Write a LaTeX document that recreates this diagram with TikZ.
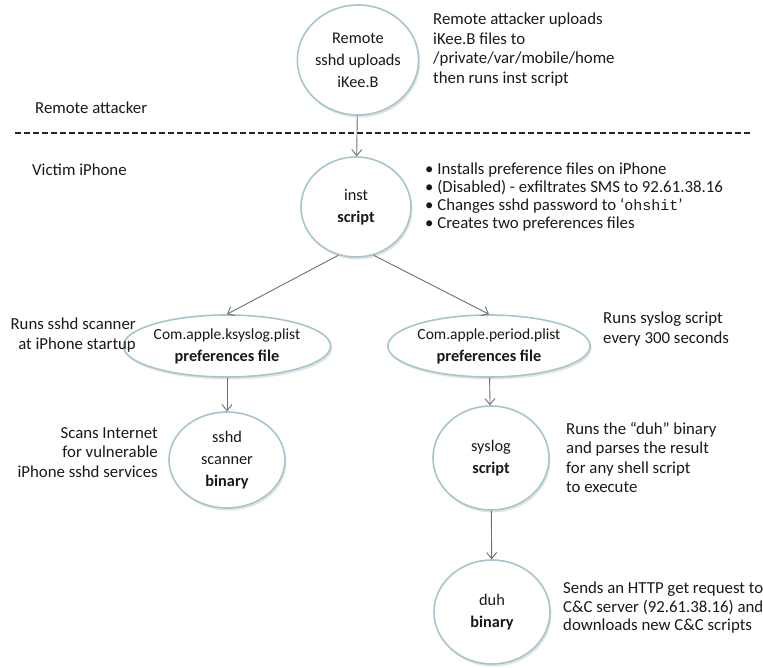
\documentclass[tikz,border=0pt]{standalone}
\usepackage{fontspec}
\setmainfont{Carlito}
\setmonofont{Liberation Mono}
\usetikzlibrary{shapes.geometric,arrows.meta,shadows}
\definecolor{rim}{RGB}{165,198,204}
\definecolor{arr}{RGB}{110,110,110}
\definecolor{txt}{RGB}{25,25,25}
\tikzset{
  bub/.style={ellipse, draw=rim, line width=1.6pt, fill=white, inner sep=0pt,
    align=center, text=txt, font=\fontsize{16.3}{22}\selectfont,
    drop shadow={opacity=0.22, shadow xshift=1.5pt, shadow yshift=-2.5pt}},
  desc/.style={text=txt, font=\fontsize{16.8}{19.5}\selectfont, inner sep=0pt},
  conn/.style={draw=arr, line width=0.9pt, -{Straight Barb[length=6pt,width=10pt]}},
}
\begin{document}
\begin{tikzpicture}[x=1pt,y=-1pt]
\useasboundingbox (0,0) rectangle (763,667);
% nodes
\node[bub, minimum width=112pt, minimum height=110pt] (rem) at (358,60) {Remote\\sshd uploads\\iKee.B};
\node[bub, minimum width=110pt, minimum height=100pt] (inst) at (356,207) {inst\\\textbf{script}};
\node[bub, minimum width=172pt, minimum height=62pt] (ks) at (227,346) {\fontsize{15.5}{20}\selectfont Com.apple.ksyslog.plist\\\textbf{preferences file}};
\node[bub, minimum width=174pt, minimum height=62pt] (per) at (489,346) {\fontsize{15.5}{20}\selectfont Com.apple.period.plist\\\textbf{preferences file}};
\node[bub, minimum width=116pt, minimum height=96pt] (scan) at (227,460) {sshd\\scanner\\\textbf{binary}};
\node[bub, minimum width=116pt, minimum height=104pt] (sys) at (491,458) {syslog\\\textbf{script}};
\node[bub, minimum width=116pt, minimum height=104pt] (duh) at (492,612) {duh\\\textbf{binary}};
% separator
\draw[line width=2.4pt, draw=black!85, dash pattern=on 6pt off 3pt] (15,133) -- (750,133);
\node[desc, anchor=west] (ra) at (35,108) {Remote attacker};
\node[desc, anchor=west] (vi) at (32,170) {Victim iPhone};
% descriptions
\node[desc, anchor=north west, align=left] (d1) at (433,13) {Remote attacker uploads\\iKee.B files to\\/private/var/mobile/home\\then runs inst script};
\node[desc, anchor=north west, align=left, font=\fontsize{16.8}{18}\selectfont] (d2) at (425,163) {\textbullet\ Installs preference files on iPhone\\\textbullet\ (Disabled) - exfiltrates SMS to 92.61.38.16\\\textbullet\ Changes sshd password to `\texttt{\fontsize{15}{18}\selectfont ohshit}'\\\textbullet\ Creates two preferences files};
\node[desc, anchor=north east, align=right] (d3) at (136,318) {Runs sshd scanner\\at iPhone startup};
\node[desc, anchor=north west, align=left] (d4) at (603,312) {Runs syslog script\\every 300 seconds};
\node[desc, anchor=north east, align=right] (d5) at (158,427) {Scans Internet\\for vulnerable\\iPhone sshd services};
\node[desc, anchor=north west, align=left] (d6) at (566,422) {Runs the ``duh'' binary\\and parses the result\\for any shell script\\to execute};
\node[desc, anchor=north west, align=left, font=\fontsize{16.8}{18.5}\selectfont] (d7) at (563,582) {Sends an HTTP get request to\\C\&C server (92.61.38.16) and\\downloads new C\&C scripts};
% connectors
\draw[conn] (rem) -- (inst);
\draw[conn] (inst.250) -- (ks.north);
\draw[conn] (inst.290) -- (per.north);
\draw[conn] (ks) -- (scan);
\draw[conn] (per) -- (sys);
\draw[conn] (sys) -- (duh);
\end{tikzpicture}
\end{document}
